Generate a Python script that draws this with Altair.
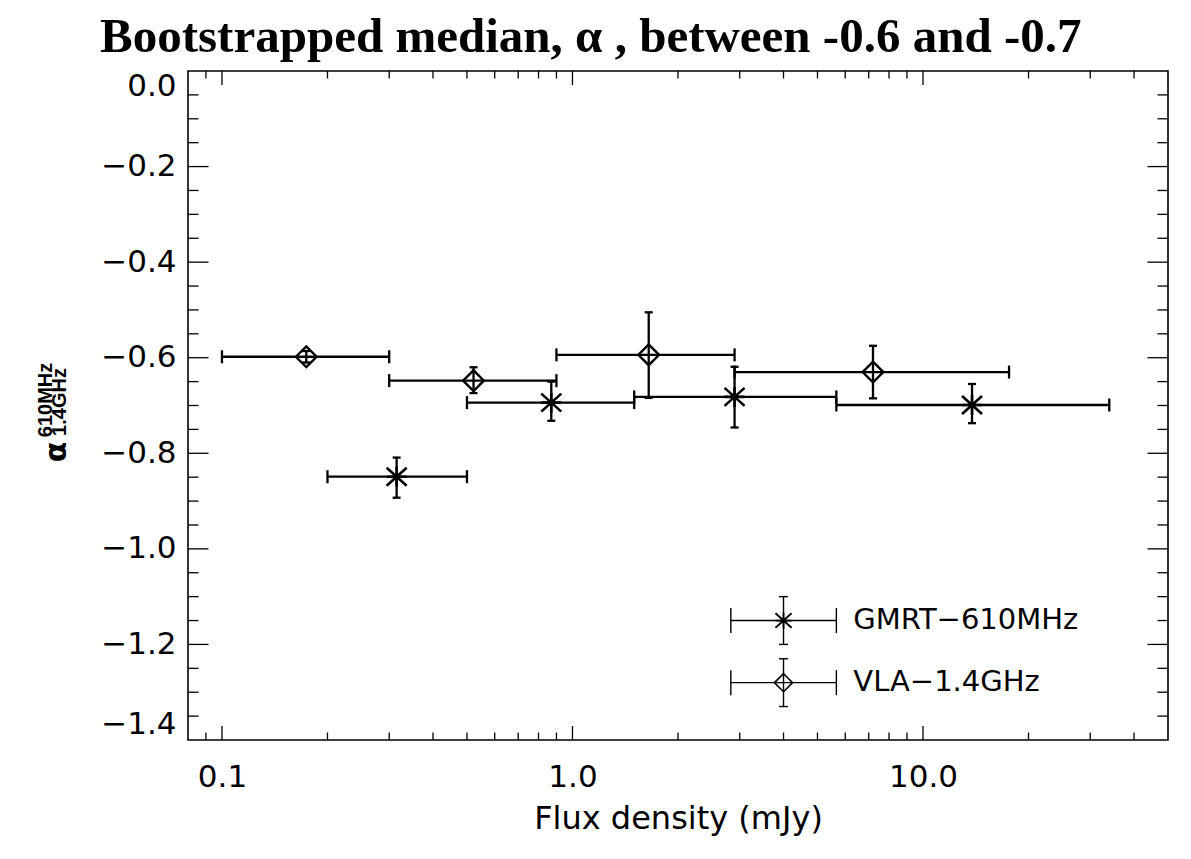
import altair as alt
import pandas as pd

# ---------------- data ----------------
series_names = ["GMRT\u2212610MHz", "VLA\u22121.4GHz"]

gmrt_x = [0.315, 0.87, 2.9, 13.8]
gmrt_xlo = [0.2, 0.5, 1.5, 5.66]
gmrt_xhi = [0.5, 1.5, 5.66, 34.0]
gmrt_y = [-0.849, -0.694, -0.682, -0.699]
gmrt_ylo = [-0.893, -0.732, -0.746, -0.737]
gmrt_yhi = [-0.809, -0.650, -0.619, -0.655]

vla_x = [0.174, 0.522, 1.65, 7.2]
vla_xlo = [0.1, 0.3, 0.9, 2.9]
vla_xhi = [0.3, 0.9, 2.9, 17.6]
vla_y = [-0.598, -0.648, -0.594, -0.630]
vla_ylo = [-0.610, -0.674, -0.684, -0.685]
vla_yhi = [-0.586, -0.620, -0.505, -0.575]

# legend entries (drawn in data space like the original)
legend_x = [4.0, 4.0]
legend_xlo = [2.83, 2.83]
legend_xhi = [5.66, 5.66]
legend_y = [-1.15, -1.28]
legend_err = [0.05, 0.05]

# axes
x_domain = [0.08, 50]
y_domain = [-1.4, 0.0]
x_label_values = [0.1, 1.0, 10.0]
y_label_values = [-1.4, -1.2, -1.0, -0.8, -0.6, -0.4, -0.2, 0.0]
x_major_ticks = [0.1, 1.0, 10.0]
x_minor_ticks = [0.09, 0.2, 0.3, 0.4, 0.5, 0.6, 0.7, 0.8, 0.9,
                 2, 3, 4, 5, 6, 7, 8, 9, 20, 30, 40]
y_major_ticks = [-1.2, -1.0, -0.8, -0.6, -0.4, -0.2]
y_minor_ticks = [-1.35, -1.3, -1.25, -1.15, -1.1, -1.05, -0.95, -0.9, -0.85,
                 -0.75, -0.7, -0.65, -0.55, -0.5, -0.45, -0.35, -0.3, -0.25,
                 -0.15, -0.1, -0.05]

title_text = "Bootstrapped median, \u03b1 , between -0.6 and -0.7"
x_title = "Flux density (mJy)"

W, H = 980, 669
LABEL_FONT = "DejaVu Sans"

xscale = alt.Scale(type="log", domain=x_domain, nice=False)
yscale = alt.Scale(domain=y_domain, nice=False, zero=False)

xaxis = alt.Axis(values=x_label_values, format=".1f", title=x_title,
                 ticks=False, tickSize=0, domain=False, grid=False,
                 labelPadding=22, labelFont=LABEL_FONT, labelFontSize=31,
                 labelColor="black", titleFont=LABEL_FONT, titleFontSize=32,
                 titleFontWeight="normal", titleColor="black",
                 titleBaseline="alphabetic", titleY=88)
yaxis = alt.Axis(values=y_label_values, format=".1f", title=None,
                 ticks=False, tickSize=0, domain=False, grid=False,
                 labelPadding=12, labelFlush=True, labelFont=LABEL_FONT,
                 labelFontSize=31, labelColor="black")


def X(f):
    return alt.X(f, type="quantitative", scale=xscale, axis=xaxis)


def Y(f):
    return alt.Y(f, type="quantitative", scale=yscale, axis=yaxis)


df_g = pd.DataFrame({"x": gmrt_x, "xlo": gmrt_xlo, "xhi": gmrt_xhi,
                     "y": gmrt_y, "ylo": gmrt_ylo, "yhi": gmrt_yhi})
df_v = pd.DataFrame({"x": vla_x, "xlo": vla_xlo, "xhi": vla_xhi,
                     "y": vla_y, "ylo": vla_ylo, "yhi": vla_yhi})
df_leg = pd.DataFrame({"x": legend_x, "xlo": legend_xlo, "xhi": legend_xhi,
                       "y": legend_y,
                       "ylo": [a - b for a, b in zip(legend_y, legend_err)],
                       "yhi": [a + b for a, b in zip(legend_y, legend_err)],
                       "name": series_names})

ASTER = "M-1,-0.9L1,0.9M-1,0.9L1,-0.9M0,-1L0,1M-1,0L1,0"


def errbars(df, sw, hcap, vcap):
    xb = alt.Chart(df).mark_rule(color="black", strokeWidth=sw).encode(
        x=X("xlo"), x2="xhi", y=Y("y"))
    yb = alt.Chart(df).mark_rule(color="black", strokeWidth=sw).encode(
        x=X("x"), y=Y("ylo"), y2="yhi")
    xc = alt.Chart(df).transform_fold(["xlo", "xhi"], as_=["k", "xc"]).mark_tick(
        orient="vertical", size=hcap, thickness=sw, color="black", opacity=1).encode(
        x=X("xc:Q"), y=Y("y"))
    yc = alt.Chart(df).transform_fold(["ylo", "yhi"], as_=["k", "yc"]).mark_tick(
        orient="horizontal", size=vcap, thickness=sw, color="black", opacity=1).encode(
        x=X("x"), y=Y("yc:Q"))
    return [xb, yb, xc, yc]


layers = []
layers += errbars(df_g, 2.3, 13, 8)
layers += errbars(df_v, 2.3, 13, 8)
layers.append(alt.Chart(df_g).mark_point(shape=ASTER, size=400, color="black",
                                         strokeWidth=2.6, filled=False, opacity=1)
              .encode(x=X("x"), y=Y("y")))
layers.append(alt.Chart(df_v).mark_point(shape="diamond", size=430, color="black",
                                         strokeWidth=2.4, filled=False, opacity=1)
              .encode(x=X("x"), y=Y("y")))

# legend
layers += errbars(df_leg, 1.4, 25, 9)
layers.append(alt.Chart(df_leg.iloc[[0]]).mark_point(
    shape=ASTER, size=260, color="black", strokeWidth=1.8, filled=False, opacity=1)
    .encode(x=X("x"), y=Y("y")))
layers.append(alt.Chart(df_leg.iloc[[1]]).mark_point(
    shape="diamond", size=330, color="black", strokeWidth=1.6, filled=False, opacity=1)
    .encode(x=X("x"), y=Y("y")))
layers.append(alt.Chart(df_leg).mark_text(
    align="left", baseline="middle", dx=17, dy=-1, font=LABEL_FONT, fontSize=29,
    color="black").encode(x=X("xhi"), y=Y("y"), text="name:N"))

# inward ticks (IDL style) on all four sides
dfxM = pd.DataFrame({"v": x_major_ticks})
dfxm = pd.DataFrame({"v": x_minor_ticks})
dfyM = pd.DataFrame({"v": y_major_ticks})
dfym = pd.DataFrame({"v": y_minor_ticks})
TW = 1.3
for d, ln in [(dfxM, 14), (dfxm, 7.5)]:
    layers.append(alt.Chart(d).mark_rule(color="black", strokeWidth=TW).encode(
        x=X("v"), y=alt.value(H), y2=alt.value(H - ln)))
    layers.append(alt.Chart(d).mark_rule(color="black", strokeWidth=TW).encode(
        x=X("v"), y=alt.value(0), y2=alt.value(ln)))
for d, ln in [(dfyM, 20.5), (dfym, 10.5)]:
    layers.append(alt.Chart(d).mark_rule(color="black", strokeWidth=TW).encode(
        y=Y("v"), x=alt.value(0), x2=alt.value(ln)))
    layers.append(alt.Chart(d).mark_rule(color="black", strokeWidth=TW).encode(
        y=Y("v"), x=alt.value(W), x2=alt.value(W - ln)))

# y axis title: alpha with super/subscript, rotated
layers.append(alt.Chart(pd.DataFrame({"t": ["\u03b1"]})).mark_text(
    angle=270, align="center", baseline="middle", font=LABEL_FONT, fontSize=30,
    fontWeight="bold", color="black").encode(
    text="t:N", x=alt.value(-131), y=alt.value(381)))
layers.append(alt.Chart(pd.DataFrame({"t": ["610MHz"]})).mark_text(
    angle=270, align="center", baseline="middle", font="Liberation Sans", fontSize=20,
    fontWeight="bold", color="black").encode(
    text="t:N", x=alt.value(-142), y=alt.value(329)))
layers.append(alt.Chart(pd.DataFrame({"t": ["1.4GHz"]})).mark_text(
    angle=270, align="center", baseline="middle", font="Liberation Sans", fontSize=20,
    fontWeight="bold", color="black").encode(
    text="t:N", x=alt.value(-128), y=alt.value(331)))

chart = alt.layer(*layers).properties(
    width=W, height=H,
    autosize=alt.AutoSizeParams(type="none"),
    padding={"left": 180, "top": 63, "right": 10, "bottom": 110},
    title=alt.TitleParams(title_text, anchor="start", frame="group", dx=-88,
                          dy=51, offset=20, baseline="alphabetic",
                          font="Liberation Serif", fontSize=49,
                          fontWeight="bold", color="black"),
).configure(background="white").configure_view(stroke="black", strokeWidth=1.6)

chart.save("out.html", embed_options={"renderer": "svg", "actions": False})
